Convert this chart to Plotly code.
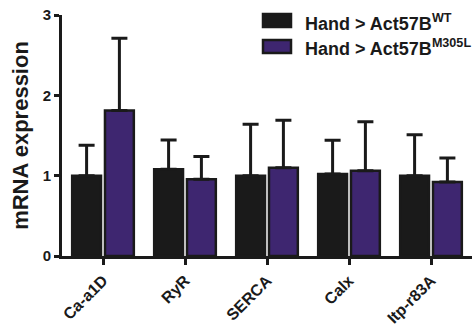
import plotly.graph_objects as go

# Gene targets and relative mRNA expression (mean + SEM) for each genotype
genes = ["Ca-a1D", "RyR", "SERCA", "Calx", "Itp-r83A"]
series_names = ["Hand &gt; Act57B<sup>WT</sup>", "Hand &gt; Act57B<sup>M305L</sup>"]
wt_mean = [1.00, 1.08, 1.00, 1.02, 1.00]
wt_sem = [0.38, 0.365, 0.64, 0.42, 0.51]
mut_mean = [1.81, 0.955, 1.10, 1.06, 0.92]
mut_sem = [0.90, 0.285, 0.59, 0.61, 0.30]
y_ticks = [0, 1, 2, 3]

W, H = 472, 332
ML, MR, MT, MB = 62, 0, 15, 76
FONT = "Liberation Sans, Arial, sans-serif"
INK = "#1a1a1a"
colors = [INK, "#3e2670"]

fig = go.Figure()
for name, mean, sem, col in zip(series_names, [wt_mean, mut_mean], [wt_sem, mut_sem], colors):
    fig.add_trace(go.Bar(
        x=genes, y=mean, name=name,
        marker=dict(color=col, line=dict(color=INK, width=2.5)),
        error_y=dict(type="data", array=sem, arrayminus=[0] * len(sem), symmetric=False,
                     color=INK, thickness=3, width=8),
        showlegend=False,
    ))

# Legend drawn as swatches + labels in paper coordinates
pw, ph = W - ML - MR, H - MT - MB
def px(x):
    return (x - ML) / pw
def py(y):
    return (H - MB - y) / ph

for i, (name, col) in enumerate(zip(series_names, colors)):
    y0 = 14 + i * 26
    fig.add_shape(type="rect", xref="paper", yref="paper",
                  x0=px(263), x1=px(291), y0=py(y0 + 13), y1=py(y0),
                  fillcolor=col, line=dict(color=INK, width=2.5))
    fig.add_annotation(xref="paper", yref="paper", x=px(303), y=py(y0 + 8),
                       text="<b>" + name + "</b>", showarrow=False,
                       xanchor="left", yanchor="middle",
                       font=dict(family=FONT, size=18, color=INK))

fig.update_layout(
    width=W, height=H,
    margin=dict(l=ML, r=MR, t=MT, b=MB, pad=0),
    paper_bgcolor="white", plot_bgcolor="white",
    barmode="group", bargap=0.2, bargroupgap=0.12,
    font=dict(family=FONT, color=INK),
    xaxis=dict(
        range=[-0.5, 4.5], showline=True, linecolor=INK, linewidth=3,
        ticks="outside", ticklen=6, tickwidth=3, tickcolor=INK,
        tickangle=-45, tickfont=dict(family=FONT, size=16, color=INK),
        tickvals=genes, ticktext=["<b>" + g + "</b>" for g in genes],
        showgrid=False, zeroline=False,
    ),
    yaxis=dict(
        range=[0, 3], tickvals=y_ticks, ticktext=["<b>%d</b>" % v for v in y_ticks],
        showline=True, linecolor=INK, linewidth=3,
        ticks="outside", ticklen=5, tickwidth=3, tickcolor=INK,
        tickfont=dict(family=FONT, size=15, color=INK),
        showgrid=False, zeroline=False,
        title=dict(text="<b>mRNA expression</b>", font=dict(family=FONT, size=22, color=INK),
                   standoff=8),
    ),
)

fig.write_html("out.html")
